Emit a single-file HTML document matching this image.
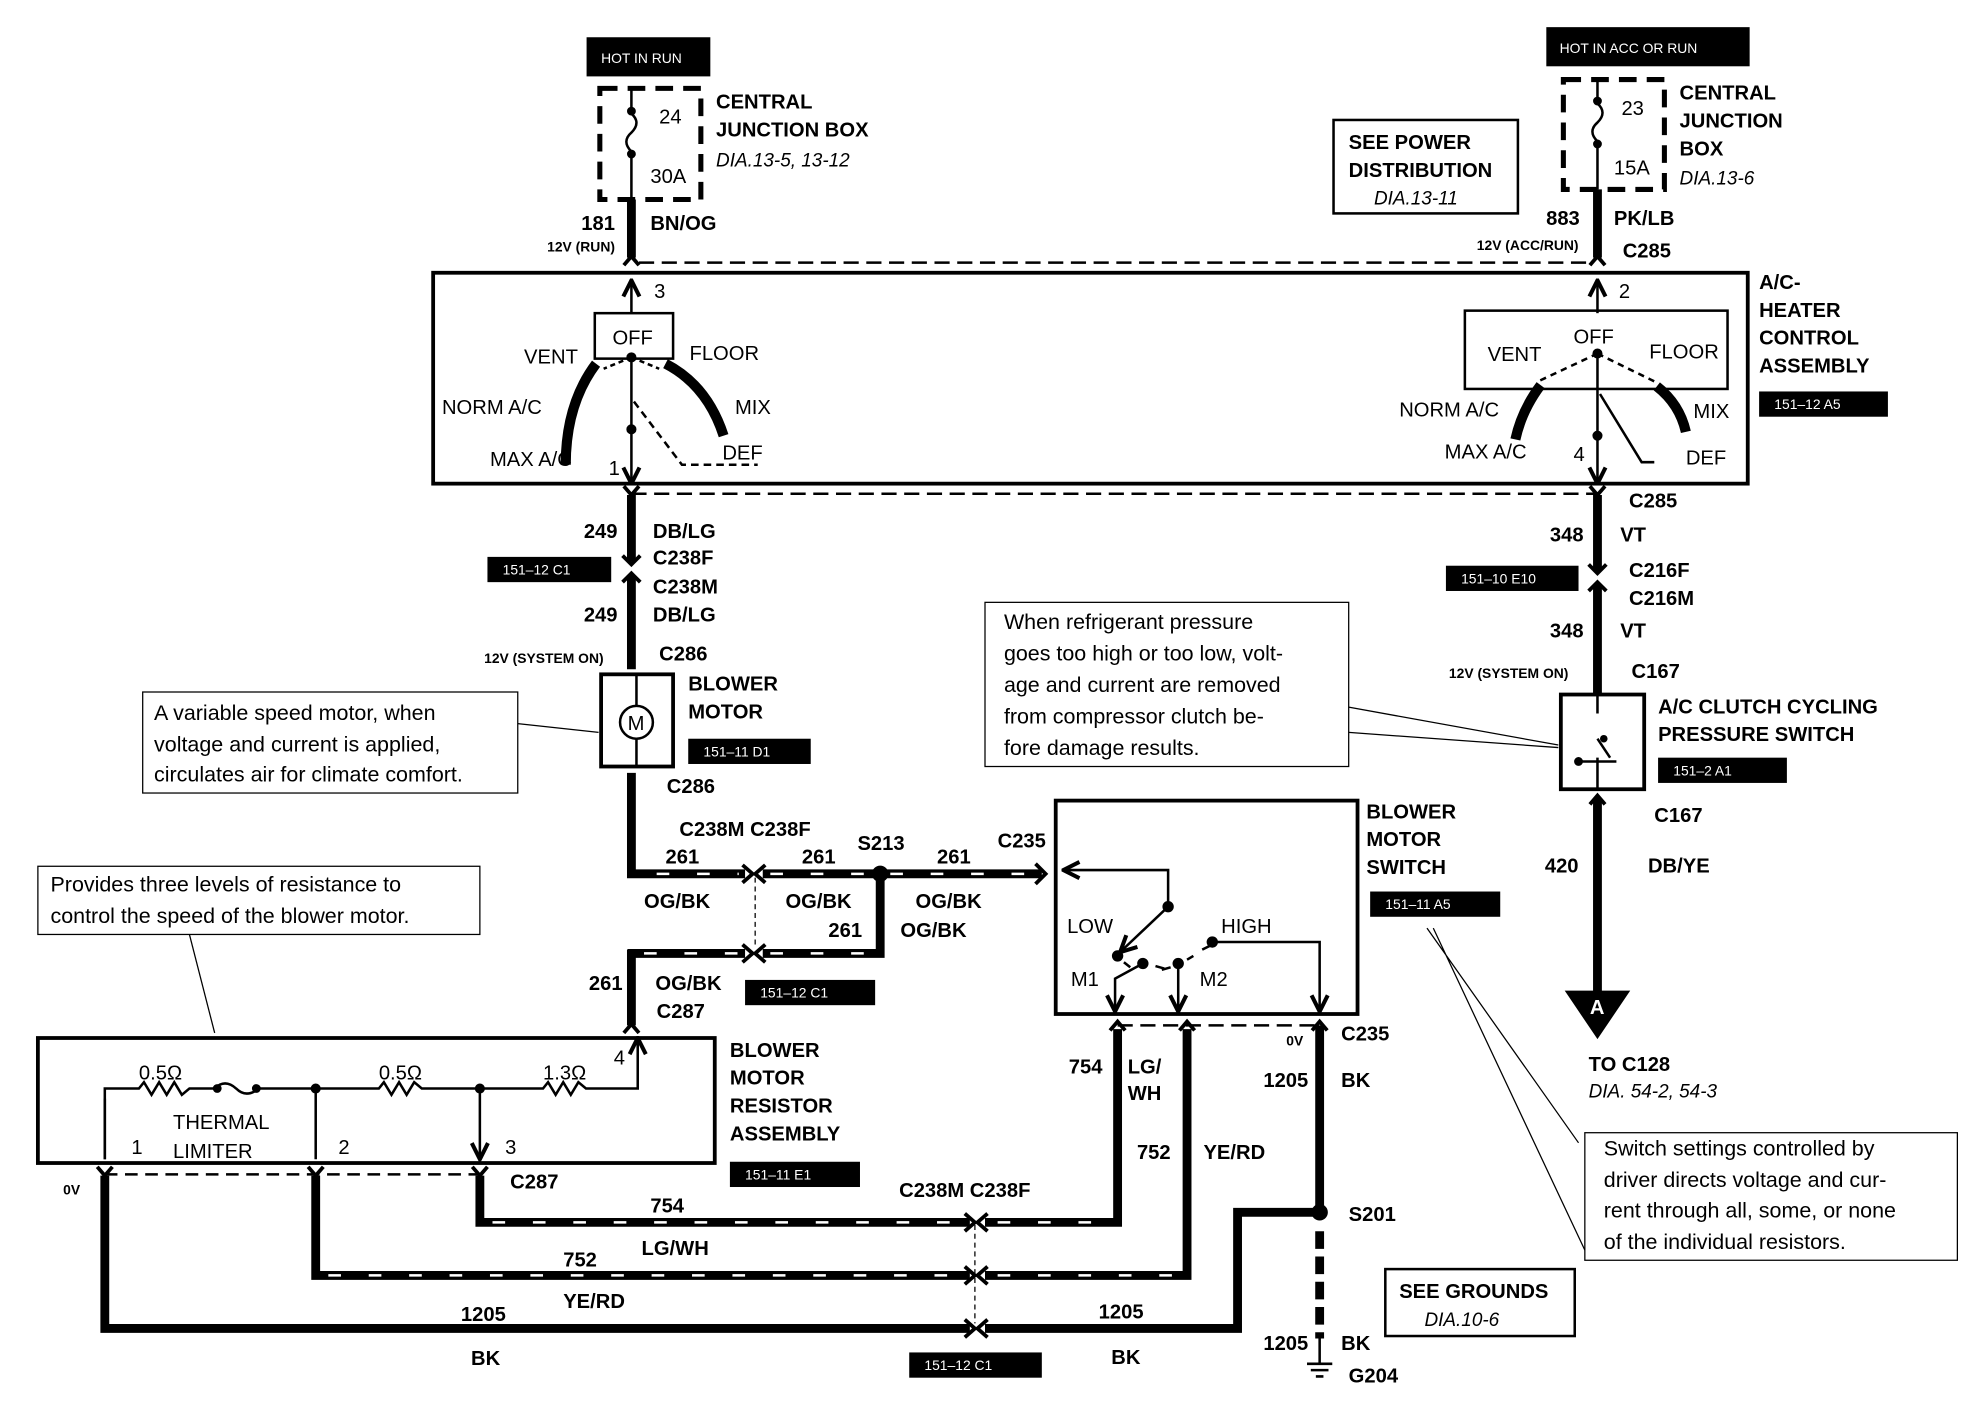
<!DOCTYPE html>
<html><head><meta charset="utf-8"><style>
html,body{margin:0;padding:0;background:#fff;}
svg{display:block;}
text{font-family:"Liberation Sans",sans-serif;fill:#000;}
.b{font-weight:bold;font-size:16px;}
.s{font-weight:bold;font-size:11px;}
.n{font-size:16px;}
.i{font-style:italic;font-size:15px;}
.w{fill:#fff;font-size:11px;}
.c{font-size:17px;}
</style></head><body>
<svg width="1970" height="1408" viewBox="0 0 1560 1115" preserveAspectRatio="none" xmlns="http://www.w3.org/2000/svg">
<rect width="1560" height="1115" fill="#fff"/>
<defs>
<marker id="ar" viewBox="0 0 10 10" refX="9" refY="5" markerWidth="8" markerHeight="8" orient="auto-start-reverse"><path d="M1,1 L9,5 L1,9" fill="none" stroke="#000" stroke-width="2"/></marker>
</defs>
<g stroke="#000" fill="none">
<rect x="465" y="30" width="97" height="30" fill="#000"/>
<rect x="475" y="70" width="80" height="88" stroke-width="4" stroke-dasharray="14,8"/>
<path d="M500 70 V90 M500 120 V158" stroke-width="2"/>
<path d="M500 90 q8 7 0 15 q-8 7 0 15" stroke-width="2"/>
<circle cx="500" cy="88" r="3" fill="#000"/><circle cx="500" cy="122" r="3" fill="#000"/>
<path d="M500 158 V204" stroke-width="7"/>
<path d="M494 210 L500 203 L506 210" stroke-width="3"/>
<rect x="1225" y="22" width="160" height="30" fill="#000"/>
<rect x="1238" y="63" width="80" height="87" stroke-width="4" stroke-dasharray="14,8"/>
<path d="M1265 63 V82 M1265 112 V150" stroke-width="2"/>
<path d="M1265 82 q8 7 0 15 q-8 7 0 15" stroke-width="2"/>
<circle cx="1265" cy="80" r="3" fill="#000"/><circle cx="1265" cy="114" r="3" fill="#000"/>
<path d="M1265 150 V204" stroke-width="7"/>
<path d="M1259 210 L1265 203 L1271 210" stroke-width="3"/>
<rect x="1056" y="95" width="146" height="74" stroke-width="2"/>
<path d="M506 208 H1259" stroke-width="2" stroke-dasharray="12,6"/>
<rect x="343" y="216" width="1041" height="167" stroke-width="3"/>
<path d="M500 248 V222" stroke-width="2" marker-end="url(#ar)"/>
<rect x="471" y="248" width="62" height="36" stroke-width="2"/>
<circle cx="500" cy="283" r="3.5" fill="#000"/>
<path d="M500 283 L478 292 M500 283 L522 292" stroke-width="2" stroke-dasharray="4,3"/>
<path d="M472 288 Q448 320 448 368" stroke-width="8"/>
<path d="M527 288 Q560 305 573 345" stroke-width="8"/>
<path d="M500 283 V383" stroke-width="2" marker-end="url(#ar)"/>
<circle cx="500" cy="340" r="3.5" fill="#000"/>
<path d="M502 318 L540 368 H600" stroke-width="2" stroke-dasharray="6,4"/>
<path d="M1265 248 V222" stroke-width="2" marker-end="url(#ar)"/>
<rect x="1160" y="246" width="208" height="62" stroke-width="2"/>
<circle cx="1265" cy="280" r="3.5" fill="#000"/>
<path d="M1265 280 L1218 302 M1265 280 L1310 302" stroke-width="2" stroke-dasharray="5,4"/>
<path d="M1220 305 Q1205 325 1200 348" stroke-width="8"/>
<path d="M1312 306 Q1330 320 1335 342" stroke-width="8"/>
<path d="M1265 280 V383" stroke-width="2" marker-end="url(#ar)"/>
<path d="M1267 312 L1300 366 H1310" stroke-width="2"/>
<circle cx="1265" cy="345" r="3.5" fill="#000"/>
<path d="M500 391 H1265" stroke-width="2" stroke-dasharray="12,6"/>
<path d="M494 385 L500 392 L506 385" stroke-width="3"/>
<path d="M500 392 V445 M500 456 V530" stroke-width="7"/>
<path d="M493 440 L500 447 L507 440 M493 461 L500 454 L507 461" stroke-width="3"/>
<rect x="476" y="534" width="57" height="73" stroke-width="3"/>
<circle cx="504" cy="572" r="13" stroke-width="2"/>
<path d="M504 534 V559 M504 585 V607" stroke-width="2"/>
<rect x="113" y="548" width="297" height="80" stroke-width="1"/>
<path d="M410 573 L474 580" stroke-width="1"/>
<path d="M500 612 V692 H590" stroke-width="7"/>
<path d="M604 692 H825" stroke-width="7"/>
<path d="M588 685 L596 692 L588 699 M606 685 L598 692 L606 699" stroke-width="3"/>
<path d="M820 684 L828 692 L820 700" stroke-width="3"/>
<circle cx="697" cy="692" r="6" fill="#000"/>
<path d="M697 692 V755 H604" stroke-width="7"/>
<path d="M497 755 H590" stroke-width="7"/>
<path d="M500 752 V812" stroke-width="7"/>
<path d="M494 818 L500 811 L506 818" stroke-width="3"/>
<path d="M588 748 L596 755 L588 762 M606 748 L598 755 L606 762" stroke-width="3"/>
<path d="M598 695 V750" stroke-width="1" stroke-dasharray="4,3"/>
<rect x="30" y="686" width="350" height="54" stroke-width="1"/>
<path d="M150 740 L170 818" stroke-width="1"/>
<rect x="30" y="822" width="536" height="99" stroke-width="3"/>
<path d="M83 918 V862 H110 l4 -5 l6 10 l6 -10 l6 10 l6 -10 l6 10 l6 -5 H170 M205 862 H300 l4 -5 l6 10 l6 -10 l6 10 l6 -10 l6 5 H430 l4 -5 l6 10 l6 -10 l6 10 l6 -10 l6 5 H505 V826" stroke-width="2"/>
<path d="M505 830 V822" stroke-width="2" marker-end="url(#ar)"/>
<path d="M170 862 q8 -8 17 0 q8 8 18 0" stroke-width="2"/>
<circle cx="172" cy="862" r="3" fill="#000"/><circle cx="203" cy="862" r="3" fill="#000"/>
<circle cx="250" cy="862" r="3.5" fill="#000"/><circle cx="380" cy="862" r="3.5" fill="#000"/>
<path d="M83 870 V918 M250 862 V918 M380 862 V918" stroke-width="2" marker-end="url(#ar)"/>
<path d="M83 930 H380" stroke-width="2" stroke-dasharray="10,6"/>
<path d="M77 924 L83 931 L89 924 M244 924 L250 931 L256 924 M374 924 L380 931 L386 924" stroke-width="3"/>
<path d="M380 931 V968 H768 M780 968 H885 V815" stroke-width="7"/>
<path d="M250 931 V1010 H768 M780 1010 H940 V815" stroke-width="7"/>
<path d="M83 931 V1052 H768 M780 1052 H980 V960 H1045" stroke-width="7"/>
<path d="M764 961 L772 968 L764 975 M782 961 L774 968 L782 975 M764 1003 L772 1010 L764 1017 M782 1003 L774 1010 L782 1017 M764 1045 L772 1052 L764 1059 M782 1045 L774 1052 L782 1059" stroke-width="3"/>
<path d="M772 970 V1048" stroke-width="1" stroke-dasharray="4,3"/>
<g stroke="#fff" stroke-width="2" stroke-dasharray="10,22">
<path d="M520 692 H585 M610 692 H690 M705 692 H815 M610 755 H690 M510 755 H585"/>
<path d="M390 968 H760 M790 968 H880 M260 1010 H760 M790 1010 H935"/>
</g>
<rect x="836" y="634" width="239" height="169" stroke-width="3"/>
<path d="M925 718 V689 H842" stroke-width="2" marker-end="url(#ar)"/>
<circle cx="925" cy="718" r="4" fill="#000"/>
<path d="M925 718 L887 754" stroke-width="2" marker-end="url(#ar)"/>
<circle cx="885" cy="757" r="4" fill="#000"/>
<path d="M890 762 L895 766 M915 765 L922 767" stroke-width="2"/>
<circle cx="905" cy="763" r="4" fill="#000"/>
<path d="M905 763 L883 775 V801" stroke-width="2" marker-end="url(#ar)"/>
<circle cx="933" cy="763" r="4" fill="#000"/>
<path d="M933 763 V801" stroke-width="2" marker-end="url(#ar)"/>
<path d="M927 766 L920 768 M940 760 L945 757 M952 752 L958 749" stroke-width="2"/>
<circle cx="960" cy="746" r="4" fill="#000"/>
<path d="M960 746 H1045 V801" stroke-width="2" marker-end="url(#ar)"/>
<path d="M879 816 L885 809 L891 816 M934 816 L940 809 L946 816 M1039 816 L1045 809 L1051 816" stroke-width="3"/>
<path d="M885 812 H1045" stroke-width="2" stroke-dasharray="12,6"/>
<path d="M1045 812 V960" stroke-width="7"/>
<circle cx="1045" cy="960" r="6" fill="#000"/>
<path d="M1045 975 V1060" stroke-width="7" stroke-dasharray="14,6"/>
<path d="M1045 1060 V1080 M1035 1080 H1055 M1038 1085 H1052 M1042 1090 H1048" stroke-width="2"/>
<rect x="1097" y="1005" width="150" height="53" stroke-width="2"/>
<rect x="1255" y="897" width="295" height="101" stroke-width="1"/>
<path d="M1130 735 L1250 905 M1135 735 L1255 990" stroke-width="1"/>
<path d="M1259 385 L1265 392 L1271 385" stroke-width="3"/>
<path d="M1265 392 V452 M1265 463 V550" stroke-width="7"/>
<path d="M1258 447 L1265 454 L1272 447 M1258 468 L1265 461 L1272 468" stroke-width="3"/>
<rect x="1236" y="550" width="66" height="75" stroke-width="3"/>
<path d="M1265 550 V565 M1265 585 L1275 600 M1265 600 V625 M1250 603 L1280 603" stroke-width="2"/>
<circle cx="1250" cy="603" r="3" fill="#000"/>
<circle cx="1270" cy="585" r="2.5" fill="#000"/>
<path d="M1265 632 V790" stroke-width="7"/>
<path d="M1259 637 L1265 630 L1271 637" stroke-width="3"/>
<path d="M1240 785 H1290 L1265 822 Z" fill="#000"/>
<rect x="780" y="477" width="288" height="130" stroke-width="1"/>
<path d="M1068 580 L1234 592 M1068 560 L1234 590" stroke-width="1"/>
</g>
<g fill="#000">
<rect x="1393" y="310" width="102" height="20"/>
<rect x="386" y="441" width="98" height="20"/>
<rect x="545" y="585" width="97" height="20"/>
<rect x="590" y="776" width="103" height="20"/>
<rect x="578" y="920" width="103" height="20"/>
<rect x="720" y="1071" width="105" height="20"/>
<rect x="1085" y="706" width="103" height="20"/>
<rect x="1145" y="448" width="105" height="20"/>
<rect x="1313" y="600" width="102" height="20"/>
</g>
<text class="w" x="476" y="50">HOT IN RUN</text>
<text class="w" x="1235" y="42">HOT IN ACC OR RUN</text>
<text class="w" x="1405" y="324">151–12 A5</text>
<text class="w" x="398" y="455">151–12 C1</text>
<text class="w" x="557" y="599">151–11 D1</text>
<text class="w" x="602" y="790">151–12 C1</text>
<text class="w" x="590" y="934">151–11 E1</text>
<text class="w" x="732" y="1085">151–12 C1</text>
<text class="w" x="1097" y="720">151–11 A5</text>
<text class="w" x="1157" y="462">151–10 E10</text>
<text class="w" x="1325" y="614">151–2 A1</text>
<text class="n" x="522" y="98">24</text>
<text class="n" x="515" y="145">30A</text>
<text class="b" x="567" y="86">CENTRAL</text>
<text class="b" x="567" y="108">JUNCTION BOX</text>
<text class="i" x="567" y="132">DIA.13-5, 13-12</text>
<text class="b" x="487" y="182" text-anchor="end">181</text>
<text class="s" x="487" y="199" text-anchor="end">12V (RUN)</text>
<text class="b" x="515" y="182">BN/OG</text>
<text class="n" x="1284" y="91">23</text>
<text class="n" x="1278" y="138">15A</text>
<text class="b" x="1330" y="79">CENTRAL</text>
<text class="b" x="1330" y="101">JUNCTION</text>
<text class="b" x="1330" y="123">BOX</text>
<text class="i" x="1330" y="146">DIA.13-6</text>
<text class="b" x="1251" y="178" text-anchor="end">883</text>
<text class="b" x="1278" y="178">PK/LB</text>
<text class="s" x="1250" y="198" text-anchor="end">12V (ACC/RUN)</text>
<text class="b" x="1285" y="204">C285</text>
<text class="b" x="1068" y="118">SEE POWER</text>
<text class="b" x="1068" y="140">DISTRIBUTION</text>
<text class="i" x="1088" y="162">DIA.13-11</text>
<text class="n" x="518" y="236">3</text>
<text class="n" x="485" y="273">OFF</text>
<text class="n" x="415" y="288">VENT</text>
<text class="n" x="546" y="285">FLOOR</text>
<text class="n" x="350" y="328">NORM A/C</text>
<text class="n" x="582" y="328">MIX</text>
<text class="n" x="388" y="369">MAX A/C</text>
<text class="n" x="572" y="364">DEF</text>
<text class="n" x="482" y="376">1</text>
<text class="n" x="1282" y="236">2</text>
<text class="n" x="1246" y="272">OFF</text>
<text class="n" x="1178" y="286">VENT</text>
<text class="n" x="1306" y="284">FLOOR</text>
<text class="n" x="1108" y="330">NORM A/C</text>
<text class="n" x="1341" y="331">MIX</text>
<text class="n" x="1144" y="363">MAX A/C</text>
<text class="n" x="1335" y="368">DEF</text>
<text class="n" x="1246" y="365">4</text>
<text class="b" x="1393" y="229">A/C-</text>
<text class="b" x="1393" y="251">HEATER</text>
<text class="b" x="1393" y="273">CONTROL</text>
<text class="b" x="1393" y="295">ASSEMBLY</text>
<text class="b" x="489" y="426" text-anchor="end">249</text>
<text class="b" x="517" y="426">DB/LG</text>
<text class="b" x="517" y="447">C238F</text>
<text class="b" x="517" y="470">C238M</text>
<text class="b" x="489" y="492" text-anchor="end">249</text>
<text class="b" x="517" y="492">DB/LG</text>
<text class="s" x="478" y="525" text-anchor="end">12V (SYSTEM ON)</text>
<text class="b" x="522" y="523">C286</text>
<text class="b" x="545" y="547">BLOWER</text>
<text class="b" x="545" y="569">MOTOR</text>
<text class="n" x="497" y="578">M</text>
<text class="c" x="122" y="570">A variable speed motor, when</text>
<text class="c" x="122" y="595">voltage and current is applied,</text>
<text class="c" x="122" y="619">circulates air for climate comfort.</text>
<text class="b" x="528" y="628">C286</text>
<text class="b" x="538" y="662">C238M C238F</text>
<text class="b" x="527" y="684">261</text>
<text class="b" x="635" y="684">261</text>
<text class="b" x="679" y="673">S213</text>
<text class="b" x="742" y="684">261</text>
<text class="b" x="790" y="671">C235</text>
<text class="b" x="510" y="719">OG/BK</text>
<text class="b" x="622" y="719">OG/BK</text>
<text class="b" x="725" y="719">OG/BK</text>
<text class="b" x="656" y="742">261</text>
<text class="b" x="713" y="742">OG/BK</text>
<text class="b" x="493" y="784" text-anchor="end">261</text>
<text class="b" x="519" y="784">OG/BK</text>
<text class="b" x="520" y="806">C287</text>
<text class="c" x="40" y="706">Provides three levels of resistance to</text>
<text class="c" x="40" y="731">control the speed of the blower motor.</text>
<text class="n" x="110" y="855">0.5Ω</text>
<text class="n" x="300" y="855">0.5Ω</text>
<text class="n" x="430" y="855">1.3Ω</text>
<text class="n" x="486" y="843">4</text>
<text class="n" x="137" y="894">THERMAL</text>
<text class="n" x="137" y="917">LIMITER</text>
<text class="n" x="104" y="914">1</text>
<text class="n" x="268" y="914">2</text>
<text class="n" x="400" y="914">3</text>
<text class="b" x="578" y="837">BLOWER</text>
<text class="b" x="578" y="859">MOTOR</text>
<text class="b" x="578" y="881">RESISTOR</text>
<text class="b" x="578" y="903">ASSEMBLY</text>
<text class="s" x="50" y="946">0V</text>
<text class="b" x="404" y="941">C287</text>
<text class="b" x="515" y="960">754</text>
<text class="b" x="508" y="994">LG/WH</text>
<text class="b" x="446" y="1003">752</text>
<text class="b" x="446" y="1036">YE/RD</text>
<text class="b" x="365" y="1046">1205</text>
<text class="b" x="373" y="1081">BK</text>
<text class="b" x="712" y="948">C238M C238F</text>
<text class="b" x="870" y="1044">1205</text>
<text class="b" x="880" y="1080">BK</text>
<text class="n" x="845" y="739">LOW</text>
<text class="n" x="967" y="739">HIGH</text>
<text class="n" x="848" y="781">M1</text>
<text class="n" x="950" y="781">M2</text>
<text class="b" x="1082" y="648">BLOWER</text>
<text class="b" x="1082" y="670">MOTOR</text>
<text class="b" x="1082" y="692">SWITCH</text>
<text class="b" x="873" y="850" text-anchor="end">754</text>
<text class="b" x="893" y="850">LG/</text>
<text class="b" x="893" y="871">WH</text>
<text class="b" x="927" y="918" text-anchor="end">752</text>
<text class="b" x="953" y="918">YE/RD</text>
<text class="s" x="1032" y="828" text-anchor="end">0V</text>
<text class="b" x="1062" y="824">C235</text>
<text class="b" x="1036" y="861" text-anchor="end">1205</text>
<text class="b" x="1062" y="861">BK</text>
<text class="b" x="1068" y="967">S201</text>
<text class="b" x="1036" y="1069" text-anchor="end">1205</text>
<text class="b" x="1062" y="1069">BK</text>
<text class="b" x="1068" y="1095">G204</text>
<text class="b" x="1108" y="1028">SEE GROUNDS</text>
<text class="i" x="1128" y="1050">DIA.10-6</text>
<text class="c" x="1270" y="915">Switch settings controlled by</text>
<text class="c" x="1270" y="940">driver directs voltage and cur-</text>
<text class="c" x="1270" y="964">rent through all, some, or none</text>
<text class="c" x="1270" y="989">of the individual resistors.</text>
<text class="b" x="1290" y="402">C285</text>
<text class="b" x="1254" y="429" text-anchor="end">348</text>
<text class="b" x="1283" y="429">VT</text>
<text class="b" x="1290" y="457">C216F</text>
<text class="b" x="1290" y="479">C216M</text>
<text class="b" x="1254" y="505" text-anchor="end">348</text>
<text class="b" x="1283" y="505">VT</text>
<text class="s" x="1242" y="537" text-anchor="end">12V (SYSTEM ON)</text>
<text class="b" x="1292" y="537">C167</text>
<text class="b" x="1313" y="565">A/C CLUTCH CYCLING</text>
<text class="b" x="1313" y="587">PRESSURE SWITCH</text>
<text class="b" x="1310" y="651">C167</text>
<text class="b" x="1250" y="691" text-anchor="end">420</text>
<text class="b" x="1305" y="691">DB/YE</text>
<text class="b" x="1259" y="803" style="fill:#fff">A</text>
<text class="b" x="1258" y="848">TO C128</text>
<text class="i" x="1258" y="869">DIA. 54-2, 54-3</text>
<text class="c" x="795" y="498">When refrigerant pressure</text>
<text class="c" x="795" y="523">goes too high or too low, volt-</text>
<text class="c" x="795" y="548">age and current are removed</text>
<text class="c" x="795" y="573">from compressor clutch be-</text>
<text class="c" x="795" y="598">fore damage results.</text>
</svg>
</body></html>
